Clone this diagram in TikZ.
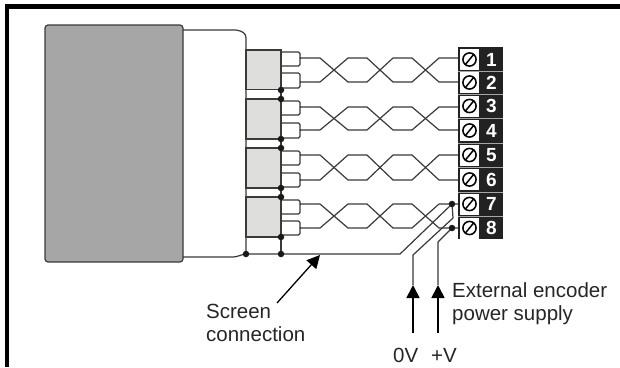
\documentclass[tikz,border=0pt]{standalone}
\usepackage{fontspec}
\setmainfont{Liberation Sans}
\usetikzlibrary{arrows.meta}
\definecolor{wirec}{HTML}{3A3A36}
\definecolor{motorg}{HTML}{A6A6A6}
\definecolor{connc}{HTML}{DEDEDC}
\definecolor{termk}{HTML}{222222}
\tikzset{
  wire/.style={draw=wirec,line width=1.2pt,line join=round},
  conn/.style={draw=wirec,line width=1.3pt,fill=connc},
  junc/.style={circle,fill=black!90,inner sep=0pt,minimum size=6.5pt},
  lab/.style={font=\fontsize{20.5}{20.5}\selectfont,text=black!85,inner sep=0pt,anchor=base west},
  term/.style={font=\bfseries\fontsize{19}{19}\selectfont,text=white,inner sep=0pt},
  pointer/.style={draw=black,line width=1.7pt,-{Triangle[length=13pt,width=13pt]},shorten >=0pt}
}
\newcommand{\pairwire}[3]{%
  \draw[wire] (#1,#2) -- (320,#2) -- (348,#3) -- (367,#3) -- (393,#2) -- (412,#2) -- (439,#3) -- (458,#3);
  \draw[wire] (#1,#3) -- (320,#3) -- (348,#2) -- (367,#2) -- (393,#3) -- (412,#3) -- (439,#2) -- (458,#2);}
\newcommand{\loopw}[3]{%
  \draw[wire,rounded corners=1.5pt] (281,#1) -- (300,#1) -- (300,#2) -- (281,#2);
  \draw[wire] (300,#3) -- (301,#3);}
\newcommand{\termc}[3]{%
  \fill[white] (460,#1-10.5) rectangle (479,#1+10.5);
  \draw[black,line width=1.5pt] (469.5,#1) circle (6.6);
  \draw[black,line width=1.5pt] (465,#1+5.5) -- (474,#1-5.5);
  \node[term] (#3) at (491.5,#1) {#2};}
\begin{document}
\begin{tikzpicture}[x=1pt,y=-1pt]
\useasboundingbox (0,0) rectangle (620,367);
\fill[white] (0,0) rectangle (620,367);
% frame
\fill[black] (5,4) rectangle (620,9);
\fill[black] (5,4) rectangle (9,367);
% motor body
\draw[wire,fill=motorg,line width=1.2pt,rounded corners=3pt] (45,25) -- (183,25) -- (183,262) -- (45,262) -- cycle;
% cable
\draw[wire] (183,30) -- (236,30) .. controls (242,31) and (246,33) .. (246,38) -- (246,254);
\draw[wire] (183,257) -- (233,257) .. controls (238,257) and (242,254) .. (246,254);
% connectors
\draw[conn] (246,50) rectangle (281,89.5);
\draw[conn] (246,99) rectangle (281,139);
\draw[conn] (246,148) rectangle (281,188);
\draw[conn] (246,197) rectangle (281,237);
\draw[wire] (281,90) -- (281,254);
\draw[wire] (246,254) -- (400,254) -- (452,204);
% loops
\loopw{52}{66}{58}\loopw{73}{88}{82}
\loopw{101}{115}{107}\loopw{123}{138}{130}
\loopw{151}{165}{155}\loopw{173}{187}{180}
\loopw{200}{214}{204}\loopw{221}{235}{228}
% twists
\pairwire{300}{58}{82}
\pairwire{300}{107}{130}
\pairwire{300}{155}{180}
\pairwire{300}{204}{228}
% terminal block
\fill[termk] (458,47) rectangle (503,239);
\foreach \yy in {71,94,118,143,167,192,216} \draw[white!65!black,line width=0.9pt] (458,\yy) -- (503,\yy);
\termc{59.5}{1}{t1}\termc{82.5}{2}{t2}\termc{106}{3}{t3}\termc{130.5}{4}{t4}
\termc{155}{5}{t5}\termc{179.5}{6}{t6}\termc{204}{7}{t7}\termc{228}{8}{t8}
% supply wires
\coordinate (d7) at (452,204);
\coordinate (d8) at (452,228);
\coordinate (tipA) at (413,285);
\coordinate (tipB) at (438,285);
\draw[wire] (d7) -- (453,218) -- (413,255) -- (tipA);
\draw[wire] (d8) -- (438,242) -- (tipB);
% junctions
\foreach \p/\n in {281/90,281/99,281/139,281/148,281/188,281/197,281/237,281/254,246/254,452/204,452/228}
  \node[junc] at (\p,\n) {};
% pointers
\coordinate (a0) at (413,333);
\coordinate (b0) at (438,333);
\coordinate (s0) at (277,303);
\coordinate (s1) at (320,255);
\draw[pointer] (a0) -- (tipA);
\draw[pointer] (b0) -- (tipB);
\draw[pointer,line width=1.3pt] (s0) -- (s1);
% labels
\node[lab] (scr) at (206,318) {Screen};
\node[lab] (con) at (206,341) {connection};
\node[lab] (ext) at (452,297) {External encoder};
\node[lab] (pow) at (452,320) {power supply};
\node[lab] (zv) at (393,362) {0V};
\node[lab] (pv) at (431,362) {+V};
\end{tikzpicture}
\end{document}
